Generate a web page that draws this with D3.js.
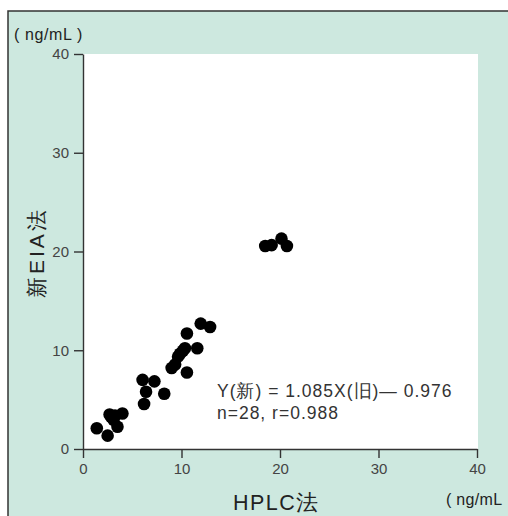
<!DOCTYPE html>
<html>
<head>
<meta charset="utf-8">
<script src="https://cdn.jsdelivr.net/npm/d3@7"></script>
<style>
  body { margin: 0; background: #fff; }
  text { font-family: "Liberation Sans", Arial, sans-serif; }
</style>
</head>
<body>
<div id="chart"></div>
<script>
// values (ng/mL)
var hplc = [1.4, 2.5, 2.7, 3.25, 4.0, 3.5, 3.1, 2.85,
            6.05, 7.25, 6.4, 8.25, 6.2,
            11.95, 12.9, 10.55, 10.35, 9.85, 10.15, 11.6, 9.35, 9.0, 10.55, 9.65,
            18.5, 19.15, 20.15, 20.7];
var eia  = [2.1, 1.35, 3.5, 3.4, 3.6, 2.25, 2.95, 3.25,
            7.0, 6.85, 5.8, 5.6, 4.55,
            12.7, 12.35, 11.7, 10.2, 9.65, 9.95, 10.2, 8.55, 8.2, 7.75, 9.35,
            20.55, 20.65, 21.3, 20.55];
var ticks = [0, 10, 20, 30, 40];
var unitLabel = "( ng/mL )";
var unitLabelX = "( ng/mL";
var xTitle = "HPLC法";
var yTitle = "新EIA法";
var eqLines = ["Y(新) = 1.085X(旧)\u2014 0.976", "n=28, r=0.988"];

var svgWidth = 508, svgHeight = 516;
var margin = {top: 54, right: 31, bottom: 67, left: 83};
var chartWidth = svgWidth - margin.left - margin.right;   // 394
var chartHeight = svgHeight - margin.top - margin.bottom; // 395

var svg = d3.select("#chart").append("svg")
    .attr("width", svgWidth)
    .attr("height", svgHeight);

// teal panel with frame on top and left
svg.append("rect")
    .attr("x", 8).attr("y", 11)
    .attr("width", svgWidth - 8).attr("height", svgHeight - 11)
    .attr("fill", "#cde8df");
svg.append("path")
    .attr("d", `M8,${svgHeight} L8,11 L${svgWidth},11`)
    .attr("fill", "none")
    .attr("stroke", "#333")
    .attr("stroke-width", 1.5);

var chartGroup = svg.append("g")
    .attr("transform", `translate(${margin.left}, ${margin.top})`);

chartGroup.append("rect")
    .attr("width", chartWidth + 1)
    .attr("height", chartHeight)
    .attr("fill", "#fff");

var xScale = d3.scaleLinear().domain([0, 40]).range([0, chartWidth]);
var yScale = d3.scaleLinear().domain([0, 40]).range([chartHeight, 0]);

var xAxis = d3.axisBottom(xScale).tickValues(ticks).tickSize(9).tickSizeOuter(0).tickPadding(5);
var yAxis = d3.axisLeft(yScale).tickValues(ticks).tickSize(9).tickSizeOuter(0).tickPadding(5);

var gx = chartGroup.append("g")
    .attr("transform", `translate(0, ${chartHeight})`)
    .call(xAxis);
var gy = chartGroup.append("g").call(yAxis);

[gx, gy].forEach(function(g) {
    g.selectAll("path, line").attr("stroke", "#333").attr("stroke-width", 1.4);
    g.selectAll("text")
        .attr("fill", "#444")
        .style("font-size", "15px")
        .style("font-family", "'Liberation Sans', Arial, sans-serif");
});

// points
chartGroup.selectAll("circle")
    .data(hplc)
    .enter()
    .append("circle")
    .attr("cx", (d, i) => xScale(d))
    .attr("cy", (d, i) => yScale(eia[i]))
    .attr("r", 6.3)
    .attr("fill", "#000");

// regression text
chartGroup.selectAll(".eq")
    .data(eqLines)
    .enter()
    .append("text")
    .attr("class", "eq")
    .attr("x", xScale(13.6))
    .attr("y", (d, i) => yScale(5.3) + i * 22)
    .attr("fill", "#333")
    .style("font-size", "17.5px")
    .style("letter-spacing", "1px")
    .text(d => d);

// unit labels
svg.append("text")
    .attr("x", 14).attr("y", 40)
    .attr("fill", "#222")
    .style("font-size", "16px")
    .style("letter-spacing", "0.6px")
    .text(unitLabel);

svg.append("text")
    .attr("x", 446).attr("y", 505)
    .attr("fill", "#222")
    .style("font-size", "16px")
    .style("letter-spacing", "0.3px")
    .text(unitLabelX);

// axis titles
svg.append("text")
    .attr("x", 233).attr("y", 510)
    .attr("fill", "#222")
    .style("font-size", "21.5px")
    .style("letter-spacing", "1.5px")
    .text(xTitle);

svg.append("text")
    .attr("transform", "translate(44, 298) rotate(-90)")
    .attr("fill", "#222")
    .style("font-size", "21px")
    .style("letter-spacing", "3px")
    .text(yTitle);
</script>
</body>
</html>
